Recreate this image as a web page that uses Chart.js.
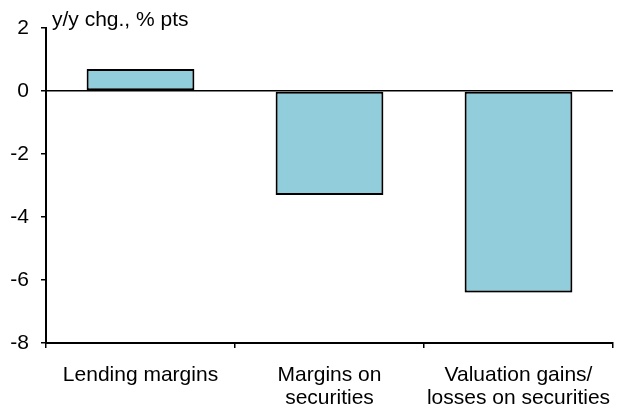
<!DOCTYPE html>
<html>
<head>
<meta charset="utf-8">
<script src="https://cdn.jsdelivr.net/npm/chart.js@4"></script>
<style>
html,body{margin:0;padding:0;background:#fff;}
#wrap{width:624px;height:408px;}
</style>
</head>
<body>
<div id="wrap"><canvas id="c" width="624" height="408"></canvas></div>
<script>
const categories = [["Lending margins"], ["Margins on", "securities"], ["Valuation gains/", "losses on securities"]];
const values = [0.7, -3.3, -6.4];
const yTicks = [2, 0, -2, -4, -6, -8];
const axisTitle = "y/y chg., % pts";

const FONT = "'Liberation Sans', Arial, sans-serif";

const titlePlugin = {
  id: 'titleText',
  afterDraw(chart) {
    const ctx = chart.ctx;
    const a = chart.chartArea;
    ctx.save();
    ctx.font = "21px " + FONT;
    ctx.fillStyle = "#000";
    ctx.textBaseline = "alphabetic";
    ctx.textAlign = "left";
    ctx.fillText(axisTitle, a.left + 6, a.top - 2);
    ctx.restore();
  }
};

const shadowPlugin = {
  id: 'barShadow',
  beforeDatasetDraw(chart) {
    const ctx = chart.ctx;
    ctx.save();
    ctx.shadowColor = 'rgba(0,0,0,0.25)';
    ctx.shadowBlur = 1.5;
    ctx.shadowOffsetX = 0;
    ctx.shadowOffsetY = 1;
  },
  afterDatasetDraw(chart) {
    chart.ctx.restore();
  }
};

new Chart(document.getElementById('c'), {
  type: 'bar',
  data: {
    labels: categories,
    datasets: [{
      data: values,
      backgroundColor: '#92CDDC',
      borderColor: '#000',
      borderWidth: 2,
      borderSkipped: false,
      barPercentage: 0.57,
      categoryPercentage: 1.0
    }]
  },
  options: {
    responsive: false,
    animation: false,
    devicePixelRatio: 1,
    layout: { padding: { top: 28, right: 11, left: 0, bottom: 0 } },
    plugins: { legend: { display: false }, tooltip: { enabled: false } },
    scales: {
      x: {
        grid: { display: true, drawOnChartArea: false, offset: true, tickLength: 5, tickColor: '#000', lineWidth: 1.5 },
        border: { display: true, color: '#000', width: 2 },
        ticks: { color: '#000', font: { family: FONT, size: 21, lineHeight: 1.1 }, padding: 16, maxRotation: 0, autoSkip: false },
        afterFit(s) { s.height = 65; s.paddingLeft = 0; s.paddingRight = 0; }
      },
      y: {
        min: -8, max: 2,
        afterBuildTicks(s) { s.ticks = yTicks.map(v => ({ value: v })); },
        grid: {
          color: (c) => (c.tick && c.tick.value === 0) ? '#000' : 'rgba(0,0,0,0)',
          lineWidth: 1.5,
          tickColor: '#000', tickLength: 5, drawTicks: true
        },
        border: { display: true, color: '#000', width: 2 },
        ticks: { color: '#000', font: { family: FONT, size: 21 }, padding: 12 },
        afterFit(s) { s.width = 46; s.paddingTop = 0; s.paddingBottom = 0; }
      }
    }
  },
  plugins: [titlePlugin, shadowPlugin]
});
</script>
</body>
</html>
